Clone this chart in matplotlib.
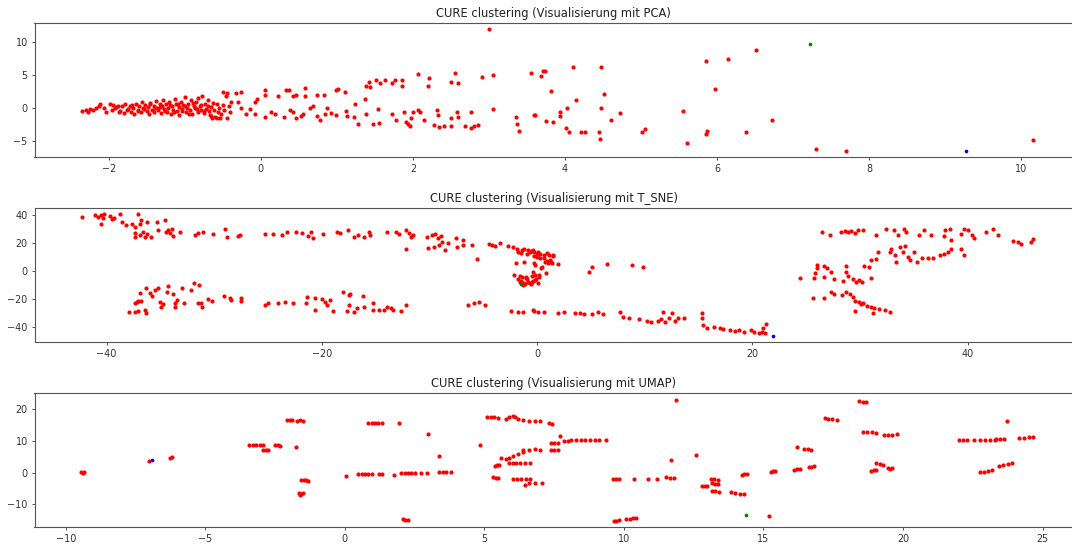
import matplotlib
matplotlib.use("Agg")
import matplotlib.pyplot as plt

# PCA projection, cluster 0 (red)
pca_x = [
    -2.35, -2.30, -2.27, -2.24, -2.20, -2.16, -2.13, -2.11, -2.06, -2.03, -1.98, -1.94, -1.91, -1.88,
    -1.95, -1.90, -1.87, -1.85, -1.82, -1.80, -1.78, -1.76, -1.75, -1.72, -1.70, -1.69, -1.68, -1.66,
    -1.64, -1.62, -1.61, -1.60, -1.58, -1.56, -1.55, -1.53, -1.52, -1.50, -1.48, -1.47, -1.46, -1.45,
    -1.43, -1.41, -1.40, -1.39, -1.38, -1.36, -1.35, -1.33, -1.32, -1.31, -1.30, -1.28, -1.27, -1.26,
    -1.25, -1.23, -1.22, -1.20, -1.19, -1.18, -1.17, -1.15, -1.14, -1.13, -1.12, -1.10, -1.09, -1.08,
    -1.07, -1.05, -1.04, -1.03, -1.02, -1.00, -0.99, -0.98, -0.97, -0.95, -0.94, -0.93, -0.92, -0.90,
    -0.89, -0.88, -0.87, -0.85, -0.84, -0.83, -0.82, -0.80, -0.79, -0.78, -0.77, -0.75, -0.74, -0.73,
    -0.72, -0.70, -0.69, -0.68, -0.67, -0.66, -0.65, -0.64, -0.63, -0.62, -0.60, -0.58, -0.57, -0.56,
    -0.55, -0.53, -0.52, -0.50, -0.49, -0.48, -0.46, -0.45, -0.44, -0.42, -0.40, -0.39, -0.33, -0.30,
    -0.26, -0.26, -0.20, -0.14, -0.08, -0.08, -0.05, 0.05, 0.06, 0.06, 0.13, 0.19, 0.23, 0.31,
    0.33, 0.37, 0.38, 0.42, 0.42, 0.47, 0.47, 0.53, 0.56, 0.58, 0.58, 0.65, 0.69, 0.74, 0.74,
    0.78, 0.83, 0.85, 0.87, 0.93, 0.99, 0.99, 1.02, 1.11, 1.12, 1.14, 1.22, 1.24, 1.28, 1.37,
    1.38, 1.39, 1.43, 1.44, 1.48, 1.51, 1.54, 1.55, 1.57, 1.63, 1.73, 1.73, 1.76, 1.78, 1.86,
    1.86, 1.89, 1.91, 1.94, 1.96, 1.98, 2.00, 2.07, 2.07, 2.10, 2.15, 2.20, 2.21, 2.28, 2.32,
    2.33, 2.34, 2.41, 2.50, 2.50, 2.50, 2.56, 2.58, 2.59, 2.59, 2.68, 2.77, 2.77, 2.80, 2.86,
    2.91, 3.00, 3.05, 3.06, 3.36, 3.37, 3.39, 3.56, 3.59, 3.61, 3.69, 3.71, 3.74, 3.75, 3.82,
    3.84, 3.93, 3.94, 4.01, 4.03, 4.06, 4.11, 4.15, 4.21, 4.26, 4.45, 4.46, 4.47, 4.48, 4.51,
    4.60, 4.73, 5.02, 5.05, 5.55, 5.60, 5.85, 5.86, 5.87, 5.98, 6.14, 6.38, 6.51, 6.72, 7.30,
    7.69, 10.15,
]
pca_y = [
    -0.50, -0.35, -0.60, -0.25, -0.35, -0.10, 0.25, 0.55, -0.10, -0.60, 0.50, 0.40, -0.10, 0.25,
    -0.30, 0.10, -0.60, -0.50, 0.20, -0.80, 0.50, -0.40, -0.20, 0.30, -0.60, 0.40, 0.00, -0.90,
    0.60, -0.30, -0.50, 0.20, -0.70, 0.90, -0.10, -0.20, 0.40, -0.50, 0.10, -1.00, 0.50, 0.70,
    -0.30, 0.30, -0.70, -0.10, 1.00, 0.00, -0.40, 0.50, 0.10, -0.80, 0.20, 1.20, -0.20, -0.50,
    0.60, -0.60, 0.00, 0.90, 0.40, -0.90, 0.30, -0.30, -0.70, 1.30, 0.50, -0.50, 0.60, 0.10,
    -1.10, 0.80, -0.50, -0.20, 0.40, 1.60, 0.20, -0.70, 0.00, 0.60, -0.90, -0.40, 1.10, -1.00,
    0.70, 0.30, -0.10, 0.90, -0.20, -0.60, 1.50, 0.20, 0.40, -0.30, 1.80, -0.80, -0.50, 0.50,
    -0.20, 1.20, 0.30, -0.50, -1.10, 0.10, -1.20, -1.60, 0.70, -0.40, -1.40, 0.50, -1.50, -0.60,
    0.00, -1.60, -1.00, 0.40, 2.30, -0.30, 1.70, -1.50, 2.20, 0.20, -0.60, 0.90, 2.20, 0.90,
    2.30, -0.10, -1.00, -0.20, -0.90, 0.90, 1.30, 2.70, 1.90, -1.40, -0.70, -0.90, 1.80, -1.40,
    2.70, 2.60, -0.40, 1.80, -0.70, 1.90, -1.50, -1.30, -0.90, 3.00, 1.70, -0.10, 0.30, 1.90, -1.30,
    -1.90, 1.90, -0.90, -0.10, -0.80, 2.60, -1.10, 2.80, 2.30, -0.50, -1.30, -1.40, 0.50, -2.40, 1.30,
    -0.90, 3.30, 3.90, 3.10, -2.40, 4.20, -0.20, -2.30, 3.80, 4.20, 3.80, -1.00, 4.20, -1.90, 4.20,
    3.30, -0.60, -2.20, -2.50, -2.80, -1.60, -0.60, 5.10, -0.30, -0.60, -1.80, 3.30, 4.50, -2.60, -0.40,
    -1.10, -2.90, -2.80, 3.90, -1.50, -2.80, 5.30, -0.60, 3.80, -1.40, -2.80, -0.60, -3.10, -2.80, -2.60,
    4.70, 11.87, 4.90, -0.20, -1.40, -2.40, -3.50, 5.20, -1.10, -1.10, 4.80, 5.50, 5.60, -2.00, 2.50,
    -2.20, -1.30, -0.70, -3.00, 0.00, -3.70, 6.10, 1.10, -3.70, -3.70, -3.70, -4.80, 0.00, 6.10, 2.00,
    -1.80, -0.75, -3.70, -3.20, -0.55, -5.40, 7.10, -4.00, -3.50, 2.80, 7.40, -3.70, 8.70, -1.80, -6.30,
    -6.50, -4.90,
]
pca_green = ([7.22], [9.55])
pca_blue = ([9.28], [-6.50])

# t-SNE projection
tsne_x = [
    -42.3, -41.1, -40.8, -40.5, -40.3, -40.5, -40.2, -39.7, -39.3, -39.5, -38.8, -38.6, -38.2, -37.6,
    -37.4, -37.1, -36.9, -36.8, -37.4, -37.4, -36.9, -36.6, -36.4, -36.2, -35.9, -36.2, -35.3, -35.2,
    -34.6, -34.3, -33.9, -34.1, -33.8, -34.5, -33.2, -31.8, -31.5, -31.0, -30.1, -29.0, -28.8, -27.8,
    -27.6, -25.3, -24.5, -23.7, -23.2, -22.4, -21.8, -21.3, -21.0, -20.8, -19.9, -18.6, -18.3, -17.6,
    -17.0, -16.6, -16.1, -15.6, -15.5, -13.9, -13.1, -12.8, -12.2, -11.9, -11.7, -11.5, -12.2, -10.2,
    -9.8, -9.5, -9.2, -8.9, -8.8, -10.1, -9.6, -9.1, -8.6, -8.3, -7.5, -7.4, -6.9, -6.9, -6.0,
    -5.6, -4.5, -4.2, -3.4, -3.9, -2.7, -2.2, -1.9, -1.4, -0.8, -0.3, 0.0,
    -2.0, -1.2, -0.3, -2.1, -1.8, -1.5, -1.2, -0.9, -0.6, -1.6, -1.0, -0.4, 0.2, -1.3, -0.7,
    -0.7, -0.4, 0.1, 0.6, 1.1, 1.5, 0.3, 0.9, 1.4, 1.9, -0.2, -0.4, -0.2, -0.1, -0.5, 0.4, 0.8,
    -1.8, -1.5, -1.2, -0.9, -0.6, -0.3, 0.0, 0.3, 0.6, 0.9, 1.2, 1.5, -1.0, -0.5, 0.5, 1.0,
    -1.6, -1.1, -0.2, 0.2, 0.7, -0.8, -1.4, 0.1, 1.3,
    4.8, 5.1, 6.5, 8.8, 9.8,
    -37.9, -37.4, -37.1, -36.4, -36.3, -36.9, -37.2, -37.1, -37.4, -36.8, -36.3, -36.0, -35.5, -35.8,
    -35.2, -35.0, -34.9, -34.8, -34.4, -34.3, -33.8, -33.6, -33.6, -33.5, -33.0, -32.8, -32.2, -31.9,
    -31.4, -31.5, -31.1, -31.2, -30.6, -30.2, -29.1, -28.5, -28.4, -27.5, -27.5, -25.3, -25.0, -24.1,
    -23.4, -22.7, -21.5, -21.4, -20.6, -20.6, -20.0, -19.7, -19.5, -19.2, -19.0, -18.0, -17.5, -17.4,
    -17.7, -17.5, -17.0, -16.7, -16.2, -16.1, -15.2, -15.2, -14.7, -14.2, -13.9, -13.6, -13.4, -12.6,
    -12.2, -6.4, -5.9, -5.4, -4.8, -2.4, -1.8, -1.3, -0.3,
    -0.4, 0.1, 0.6, 1.9, 2.5, 3.5, 4.0, 4.4, 5.1, 5.7, 6.1, 7.7, 8.0, 8.5, 9.5, 10.2, 10.6, 11.2,
    11.5, 11.7, 11.9, 12.3, 12.5, 12.8, 13.1, 13.7, 15.3, 15.3, 15.4, 15.8, 16.4, 17.0, 17.3, 17.9,
    18.4, 18.8, 19.2, 19.9, 20.2, 20.6, 20.9, 21.0, 21.3, 21.2,
    26.5, 27.2, 28.2, 28.6, 28.9, 29.2, 29.5, 29.8, 30.3, 31.5, 32.4, 33.2, 33.5, 34.1, 34.3, 35.5,
    36.0, 36.6, 37.8, 37.9, 38.4, 38.5, 39.4, 39.7, 40.0, 40.4, 40.6, 41.7, 42.4, 42.8, 44.2, 44.7,
    45.0, 45.9, 46.1,
    32.8, 32.9, 33.3, 33.4, 33.7, 34.0, 34.2, 34.5, 34.7, 35.0, 35.3, 35.8, 36.3, 36.8, 37.4, 37.8,
    38.2, 38.5, 39.4, 39.7, 31.7, 31.5, 31.0, 30.4, 30.8, 28.7, 28.7, 26.0, 26.0, 26.7, 26.9, 24.4,
    25.7, 25.8, 26.7, 27.3, 27.6, 28.4, 28.9, 29.4, 29.6, 29.9, 30.2, 31.0,
    25.6, 26.7, 27.3, 27.6, 28.3, 28.7, 29.1, 29.4, 29.5, 29.9, 30.3, 30.7, 31.0, 31.3, 31.2, 31.8,
    32.3, 32.8, 29.5, 30.1,
]
tsne_y = [
    38.9, 40.1, 38.9, 40.1, 37.7, 34.1, 40.8, 39.6, 38.4, 37.2, 40.6, 35.3, 32.9, 34.1,
    31.7, 40.6, 34.1, 36.5, 27.0, 24.6, 25.8, 28.2, 24.6, 26.3, 24.6, 35.3, 35.3, 29.4,
    36.5, 29.4, 30.1, 27.0, 25.3, 27.7, 27.7, 25.8, 27.0, 28.2, 26.3, 30.5, 24.6, 25.3,
    25.8, 26.3, 26.5, 25.8, 28.2, 28.2, 27.0, 25.1, 28.2, 23.4, 26.3, 28.2, 27.0, 29.4,
    24.6, 25.8, 24.1, 28.2, 25.8, 27.7, 28.2, 26.3, 29.4, 27.0, 24.6, 25.8, 16.2, 24.6,
    25.8, 26.3, 23.9, 25.1, 21.0, 16.7, 17.4, 18.6, 15.0, 19.8, 23.9, 17.4, 22.2, 18.6, 18.6,
    8.6, 19.1, 18.6, 19.8, 18.1, 18.1, 17.4, 15.8, 15.0, 15.0, 13.8, 12.6,
    5.5, 6.7, 5.5, -2.9, -5.5, -7.0, -8.2, -6.0, -9.0, -3.5, -4.2, -6.8, -3.0, -10.0, -8.8,
    13.8, 15.0, 13.8, 11.9, 11.5, 11.5, 9.1, 7.2, 5.5, 4.8, 4.3, -0.5, -2.9, -5.3, -7.6, 2.0, -1.5,
    14.0, 13.0, 15.5, 12.5, 14.5, 11.0, 10.0, 12.0, 9.5, 13.0, 8.0, 10.5, -5.0, -3.8, 3.0, 5.8,
    -7.5, -9.5, -6.2, -4.5, 6.5, -8.0, -4.0, -8.5, 6.8,
    -0.5, 3.1, 4.8, 4.3, 3.1,
    -29.6, -29.1, -28.6, -27.9, -30.3, -16.0, -22.0, -21.5, -22.7, -21.5, -12.4, -16.0, -13.6, -17.7,
    -11.9, -22.0, -25.5, -23.9, -14.8, -10.7, -16.7, -22.7, -25.5, -20.8, -12.4, -23.2, -13.6, -8.8,
    -10.0, -23.2, -25.5, -22.7, -20.3, -21.5, -17.7, -19.1, -20.8, -19.6, -21.5, -24.3, -22.7, -23.2,
    -22.4, -23.2, -23.2, -18.4, -19.6, -27.9, -20.0, -22.0, -24.3, -20.8, -28.6, -15.3, -17.2, -16.5,
    -28.6, -24.3, -29.1, -26.7, -17.7, -25.5, -23.2, -27.9, -27.9, -27.9, -25.5, -26.3, -27.9, -28.6,
    -24.3, -24.3, -23.2, -22.4, -24.3, -28.6, -29.6, -29.1, -28.6,
    -27.9, -29.1, -29.1, -30.3, -29.1, -30.3, -30.3, -31.0, -31.0, -29.1, -31.0, -29.6, -32.7, -33.9,
    -34.4, -35.8, -36.3, -35.8, -34.4, -29.6, -36.7, -33.4, -30.3, -35.8, -33.9, -33.9, -30.3, -33.4,
    -38.7, -40.6, -39.9, -41.1, -41.5, -42.2, -43.0, -42.5, -43.4, -42.2, -43.9, -44.6, -43.9, -41.1,
    -38.2, -44.6,
    27.7, 25.8, 28.2, 28.6, 27.7, 28.6, 27.0, 29.4, 29.4, 25.8, 30.1, 29.4, 25.8, 30.1, 28.2, 25.8,
    29.4, 25.8, 25.1, 29.4, 30.5, 22.2, 26.3, 30.5, 29.8, 25.8, 23.9, 27.7, 30.1, 25.8, 21.5, 21.0,
    19.1, 21.0, 22.7,
    13.4, 15.8, 11.9, 6.7, 17.4, 13.8, 18.1, 10.3, 7.9, 13.8, 6.7, 9.1, 9.5, 9.1, 11.5, 12.6,
    13.8, 15.8, 15.8, 11.5, 13.8, 8.6, 7.9, 3.8, 3.1, 3.8, -0.5, 4.3, 2.4, 3.8, 2.4, -4.8,
    -4.8, -1.7, -4.1, -0.5, -5.3, -7.2, -3.3, -5.3, -8.1, -6.4, -7.6, -4.8,
    -19.6, -19.1, -14.8, -16.7, -17.2, -15.3, -16.7, -18.4, -21.5, -22.0, -23.2, -24.8, -25.5, -26.7,
    -29.8, -27.2, -27.9, -29.6, -28.6, -23.9,
]
tsne_green = ([-1.5], [-9.5])
tsne_blue = ([21.9], [-46.5])

# UMAP projection
umap_x = [
    -9.45, -9.40, -9.35, -7.02, -6.26, -6.20,
    -3.42, -3.30, -3.18, -3.05, -2.92, -2.93, -2.84, -2.75, -2.50, -2.40, -2.31,
    -2.06, -1.97, -1.88, -1.73, -1.62, -1.51, -1.76,
    -1.57, -1.48, -1.40, -1.32, -1.63, -1.57, -1.51, -1.60,
    0.04, 0.47, 0.60, 0.72, 0.84, 0.96, 1.21, 1.33, 0.84, 0.96, 1.08, 1.20, 1.33, 1.93,
    1.77, 2.01, 2.14, 2.26, 2.38, 2.51, 2.08, 2.17, 2.26, 2.72, 2.98, 2.94, 3.37,
    3.37, 3.50, 3.62, 3.80, 4.86, 5.10, 5.22, 5.35, 5.48, 5.38, 5.46, 5.54, 5.30, 5.40, 5.50,
    5.60, 5.78, 5.90, 6.02, 6.09, 5.78, 5.90, 6.03, 6.20, 6.40, 5.90, 6.02, 6.15,
    6.03, 6.18, 6.33, 6.50, 6.65, 6.20, 6.40, 6.60, 6.81, 7.00, 6.40, 6.60, 6.80, 7.00,
    6.28, 6.45, 6.65, 6.47, 6.60, 6.80, 7.06, 7.31, 7.43, 7.37, 7.50, 7.62, 7.37, 7.50, 7.62,
    7.71, 7.86, 7.98, 8.11, 8.30, 8.45, 8.62, 8.78, 8.95, 9.10, 9.35,
    11.88, 11.69, 12.59, 9.60, 9.70, 9.81, 10.37, 10.85, 11.17, 11.50, 11.65, 11.80,
    9.65, 9.73, 9.81, 10.09, 10.20, 10.32, 10.43,
    12.80, 12.90, 12.99, 13.11, 13.24, 13.36, 13.17, 13.27, 13.36, 13.17, 13.28, 13.40,
    13.85, 13.98, 14.16, 14.29, 14.22, 14.31, 14.41, 15.21, 15.27, 15.35, 15.42,
    16.08, 16.20, 16.32, 16.20, 16.45, 16.58, 16.70, 16.63, 16.72, 16.82,
    17.19, 17.33, 17.47, 17.62, 18.42, 18.55, 18.67, 18.55, 18.70, 18.88, 19.04,
    19.31, 19.45, 19.62, 19.78, 18.86, 18.95, 19.04, 19.04, 19.17, 19.29, 19.47, 19.54, 19.60,
    22.00, 22.15, 22.30, 22.56, 22.75, 22.95, 23.10, 23.30, 23.33, 23.47, 23.61, 23.74,
    22.75, 22.90, 23.04, 23.18, 23.43, 23.60, 23.76, 23.92, 24.17, 24.33, 24.50, 24.66,
]
umap_y = [
    0.1, -0.1, 0.1, 3.7, 4.6, 4.8,
    8.6, 8.6, 8.6, 8.6, 8.6, 7.2, 7.2, 7.2, 8.7, 8.6, 8.5,
    16.6, 16.6, 16.6, 16.4, 16.6, 16.4, 7.9,
    -2.3, -2.5, -2.5, -2.6, -6.4, -6.8, -6.4, -7.0,
    -1.2, -0.6, -0.5, -0.5, -0.5, -0.5, -0.5, -0.5, 15.6, 15.6, 15.6, 15.6, 15.6, 15.6,
    -0.8, -0.2, -0.1, -0.1, -0.1, -0.1, -14.7, -14.9, -14.9, 0.0, 12.0, 0.0, 5.1,
    0.1, 0.2, 0.3, 0.3, 8.6, 17.5, 17.5, 17.4, 17.3, 2.1, 2.3, 2.5, -1.5, -1.7, -1.7,
    4.7, 17.0, 17.6, 17.8, 17.5, 4.3, 4.6, 5.2, 5.8, 6.5, 3.0, 3.0, 3.0,
    -1.9, -2.0, -2.1, -2.0, -2.1, 16.8, 16.6, 16.4, 16.4, 16.3, 7.2, 7.2, 7.3, 7.2,
    3.0, 3.0, 3.0, -4.0, -3.2, -3.3, -3.4, 15.7, 15.3, 7.2, 7.2, 7.2, 9.3, 9.4, 9.4,
    11.5, 9.9, 10.1, 10.2, 10.2, 10.2, 10.2, 10.2, 10.2, 10.2, 10.4,
    22.9, 3.9, 5.4, -1.9, -1.9, -1.9, -1.9, -1.9, -2.1, -1.5, -1.6, -1.8,
    -15.2, -15.3, -15.1, -14.7, -14.6, -14.4, -14.4,
    -4.3, -4.2, -4.4, -2.1, -2.2, -2.4, -3.4, -3.6, -3.5, -5.7, -5.9, -6.0,
    -6.3, -6.5, -6.8, -6.9, -0.7, -0.6, -0.5, -13.7, 0.3, 0.4, 0.4,
    0.9, 1.0, 1.0, 7.9, 7.4, 7.3, 7.2, 1.7, 1.8, 2.0,
    17.1, 16.9, 16.8, 16.7, 22.6, 22.4, 22.3, 12.9, 12.8, 12.7, 12.6,
    11.8, 11.8, 11.9, 12.0, 0.6, 0.7, 0.8, 2.9, 2.6, 2.4, 1.4, 1.2, 1.3,
    10.4, 10.4, 10.4, 10.4, 10.3, 10.3, 10.3, 10.4, 10.7, 10.6, 10.7, 16.4,
    0.3, 0.3, 0.5, 0.7, 1.9, 2.4, 2.7, 2.9, 10.9, 11.0, 11.1, 11.1,
]
umap_green = ([14.39], [-13.4])
umap_blue = ([-6.90], [4.1])

panels = [
    ("PCA", pca_x, pca_y, pca_green, pca_blue, (-2.975, 10.78), (-7.4, 12.75),
     [-2, 0, 2, 4, 6, 8, 10], [-5, 0, 5, 10]),
    ("T_SNE", tsne_x, tsne_y, tsne_green, tsne_blue, (-46.7, 50.5), (-51, 45),
     [-40, -20, 0, 20, 40], [-40, -20, 0, 20, 40]),
    ("UMAP", umap_x, umap_y, umap_green, umap_blue, (-11.12, 26.36), (-17.1, 25),
     [-10, -5, 0, 5, 10, 15, 20, 25], [-10, 0, 10, 20]),
]

fig = plt.figure(figsize=(10.72, 5.49), dpi=100)
W, H = 1072, 549
left, right = 34.5, 1080.5
boxes = [(23.3, 156.7), (208.3, 342.3), (393.3, 526.7)]

for (name, x, y, green, blue, xlim, ylim, xt, yt), (top, bottom) in zip(panels, boxes):
    ax = fig.add_axes([left / W, 1 - bottom / H, (right - left) / W, (bottom - top) / H])
    ax.scatter(x, y, s=9, c="red", linewidths=0)
    ax.scatter(*green, s=7, c="green", linewidths=0)
    ax.scatter(*blue, s=7, c="blue", linewidths=0)
    ax.set_xlim(*xlim)
    ax.set_ylim(*ylim)
    ax.set_xticks(xt)
    ax.set_yticks(yt)
    ax.tick_params(labelsize=6.9, length=2.4, width=0.6, pad=2.5, colors="#333333")
    for sp in ax.spines.values():
        sp.set_color("#555555")
        sp.set_linewidth(0.8)
    ax.set_title(f"CURE clustering (Visualisierung mit {name})", fontsize=8.3,
                 color="#222222", pad=4.5, x=(553.5 - left) / (right - left))

fig.savefig("out.png", dpi=100)
